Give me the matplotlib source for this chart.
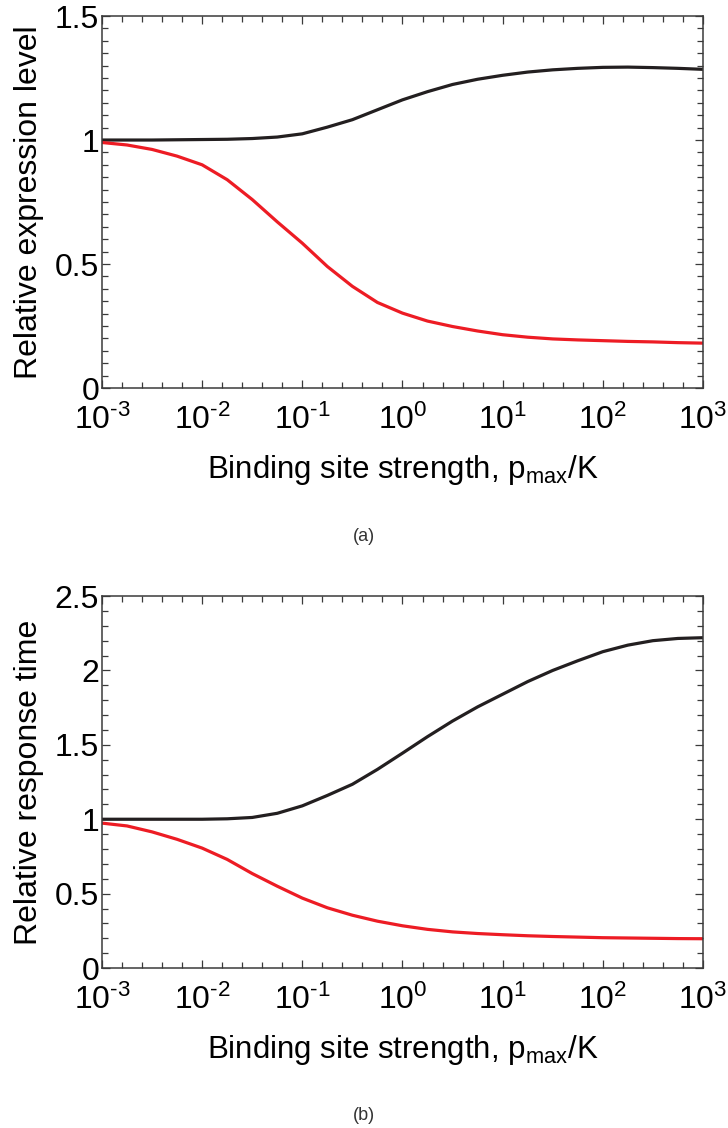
import numpy as np
import matplotlib
matplotlib.use("Agg")
import matplotlib.pyplot as plt
from matplotlib.ticker import FixedLocator, FuncFormatter

plt.rcParams['font.family'] = ['Liberation Sans', 'DejaVu Sans']
plt.rcParams['mathtext.fontset'] = 'custom'
plt.rcParams['mathtext.rm'] = 'Liberation Sans'
plt.rcParams['mathtext.it'] = 'Liberation Sans:italic'

# log10 of binding site strength where the curves were read
log_x = [-3.0, -2.75, -2.5, -2.25, -2.0, -1.75, -1.5, -1.25, -1.0, -0.75,
         -0.5, -0.25, 0.0, 0.25, 0.5, 0.75, 1.0, 1.25, 1.5, 1.75,
         2.0, 2.25, 2.5, 2.75, 3.0]

# (a) relative expression level
expr_black = [1.0, 1.0, 1.0, 1.001, 1.002, 1.003, 1.006, 1.012, 1.025, 1.052,
              1.082, 1.122, 1.162, 1.195, 1.224, 1.245, 1.261, 1.274, 1.283, 1.289,
              1.293, 1.294, 1.292, 1.289, 1.285]
expr_red = [0.99, 0.98, 0.962, 0.935, 0.90, 0.84, 0.76, 0.67, 0.584, 0.49,
            0.41, 0.345, 0.302, 0.27, 0.248, 0.23, 0.215, 0.205, 0.198, 0.194,
            0.191, 0.188, 0.186, 0.183, 0.181]

# (b) relative response time
resp_black = [1.0, 1.0, 1.0, 1.0, 1.0, 1.003, 1.012, 1.04, 1.09, 1.16,
              1.235, 1.335, 1.444, 1.555, 1.66, 1.755, 1.84, 1.925, 2.0, 2.065,
              2.126, 2.17, 2.2, 2.215, 2.22]
resp_red = [0.974, 0.955, 0.915, 0.865, 0.806, 0.73, 0.635, 0.55, 0.47, 0.405,
            0.355, 0.315, 0.284, 0.26, 0.243, 0.232, 0.224, 0.217, 0.212, 0.208,
            0.204, 0.202, 0.2, 0.198, 0.197]

x = 10.0 ** np.array(log_x)

RED = '#ed1c24'
BLACK = '#231f20'
FRAME = '#3a3a3a'

fig = plt.figure(figsize=(7.28, 11.28), dpi=100)
ax1 = fig.add_axes([0.1401, 0.656, 0.8255, 0.3298])
ax2 = fig.add_axes([0.1401, 0.1418, 0.8255, 0.3298])

panels = [
    (ax1, expr_black, expr_red, 1.5, 0.05, "Relative expression level", "(a)", 0.524),
    (ax2, resp_black, resp_red, 2.5, 0.1, "Relative response time", "(b)", 0.011),
]

minor_x = [10.0 ** (d + 0.2 * i) for d in range(-3, 3) for i in range(1, 5)]


def decade_label(v, pos):
    k = int(round(np.log10(v)))
    exp = r'\text{-}%d' % abs(k) if k < 0 else '%d' % k
    return r'$\mathregular{10^{%s}}$' % exp


for ax, yb, yr, ymax, ystep, ylabel, tag, tag_y in panels:
    ax.plot(x, yb, color=BLACK, lw=2.3, solid_capstyle='butt')
    ax.plot(x, yr, color=RED, lw=2.3, solid_capstyle='butt')
    ax.set_xscale('log')
    ax.set_xlim(1e-3, 1e3)
    ax.set_ylim(0, ymax)

    ax.xaxis.set_major_locator(FixedLocator([10.0 ** k for k in range(-3, 4)]))
    ax.xaxis.set_minor_locator(FixedLocator(minor_x))
    ax.xaxis.set_major_formatter(FuncFormatter(decade_label))
    ax.yaxis.set_major_locator(FixedLocator(np.arange(0, ymax + 0.01, 0.5)))
    ax.yaxis.set_minor_locator(FixedLocator(np.arange(0, ymax + 0.001, ystep)))
    ax.yaxis.set_major_formatter(FuncFormatter(lambda v, p: '%g' % v))

    ax.tick_params(which='both', direction='in', top=True, right=True,
                   color=FRAME, width=0.9, labelsize=23, labelcolor='black')
    ax.tick_params(which='major', length=6)
    ax.tick_params(which='minor', length=4)
    ax.tick_params(axis='x', which='major', pad=12)
    ax.tick_params(axis='y', which='major', pad=2)
    for s in ax.spines.values():
        s.set_color(FRAME)
        s.set_linewidth(1.1)

    ax.set_ylabel(ylabel, fontsize=23, labelpad=8)
    ax.set_xlabel(r'Binding site strength, p$_{\mathregular{max}}$/K', fontsize=22.5, labelpad=12)
    fig.text(0.5, tag_y, tag, ha='center', va='center', fontsize=13, color='#333333')

fig.savefig('out.png', dpi=100)
